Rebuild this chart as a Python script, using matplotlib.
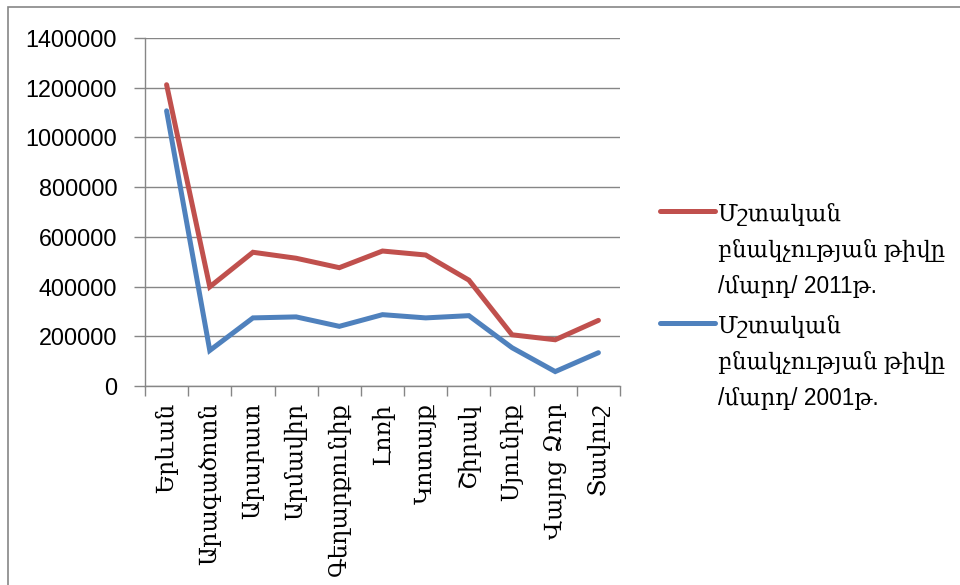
import matplotlib
matplotlib.use("Agg")
import matplotlib.pyplot as plt
from matplotlib.lines import Line2D
from matplotlib.patches import Rectangle
import numpy as np

categories = ["Երևան", "Արագածոտն", "Արարատ", "Արմավիր", "Գեղարքունիք", "Լոռի",
              "Կոտայք", "Շիրակ", "Սյունիք", "Վայոց Ձոր", "Տավուշ"]
pop_2011 = [1212000, 399000, 538000, 514000, 476000, 543000, 527000, 426000, 206000, 186000, 264000]
pop_2001 = [1107000, 143000, 274000, 278000, 240000, 287000, 274000, 283000, 154000, 58000, 134000]
yticks = [0, 200000, 400000, 600000, 800000, 1000000, 1200000, 1400000]
label_2011 = "Մշտական\nբնակչության թիվը\n/մարդ/ 2011թ."
label_2001 = "Մշտական\nբնակչության թիվը\n/մարդ/ 2001թ."

RED = "#C0504D"
BLUE = "#4F81BD"
GRAY = "#868686"
FONT = ["Liberation Sans", "DejaVu Serif"]
ARM = ["DejaVu Serif"]

fig = plt.figure(figsize=(9.6, 5.85), dpi=100)
W, H = 960, 585
ax = fig.add_axes([145 / W, 1 - 386 / H, (620 - 145) / W, (386 - 38) / H])

x = np.arange(len(categories))
ax.plot(x, pop_2011, color=RED, lw=3.6, solid_capstyle="round", solid_joinstyle="miter", zorder=3)
ax.plot(x, pop_2001, color=BLUE, lw=3.6, solid_capstyle="round", solid_joinstyle="miter", zorder=3)

ax.set_xlim(-0.5, len(categories) - 0.5)
ax.set_ylim(0, 1400000)
ax.set_yticks(yticks)
ax.set_yticklabels([str(v) for v in yticks], family=["Liberation Sans"], fontsize=16.8)
ax.set_xticks(x)
ax.set_xticklabels(categories, rotation=90, family=ARM, fontsize=17, va="top")
ax.set_xticks(np.arange(-0.5, len(categories)), minor=True)
ax.tick_params(axis="x", which="major", length=0, pad=12)
ax.tick_params(axis="x", which="minor", length=7, width=1, color=GRAY, direction="out")
ax.tick_params(axis="y", length=8, width=1, color=GRAY, pad=12)

ax.grid(axis="y", color=GRAY, lw=1)
ax.set_axisbelow(True)
for s in ["top", "right"]:
    ax.spines[s].set_visible(False)
for s in ["left", "bottom"]:
    ax.spines[s].set_color(GRAY)
    ax.spines[s].set_linewidth(1)

# legend (Excel style, handle aligned with first line)
def legend_entry(y_line, color, text):
    fig.add_artist(Line2D([660 / W, 715 / W], [1 - y_line / H, 1 - y_line / H],
                          color=color, lw=3.6, solid_capstyle="round", transform=fig.transFigure))
    fig.text(718 / W, 1 - (y_line - 8) / H, text, family=FONT, fontsize=16.4,
             va="top", ha="left", linespacing=1.72)

legend_entry(211, RED, label_2011)
legend_entry(323, BLUE, label_2001)

# chart border
fig.add_artist(Rectangle((8 / W, -0.05), 1.1, 1.05 - 7 / H, fill=False,
                         edgecolor=GRAY, lw=1.2, transform=fig.transFigure))

fig.savefig("out.png", dpi=100)
